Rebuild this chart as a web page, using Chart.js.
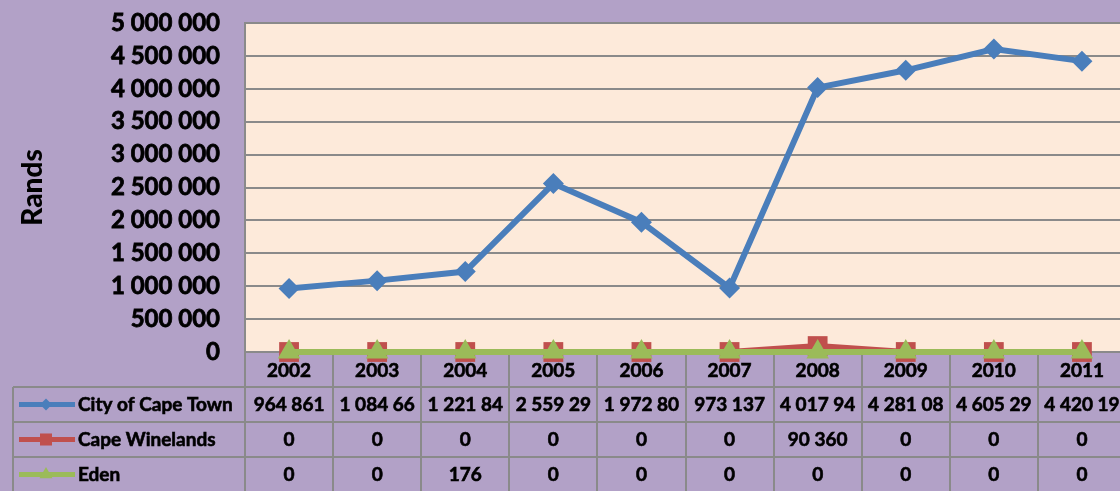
<!DOCTYPE html>
<html>
<head>
<meta charset="utf-8">
<script src="https://cdn.jsdelivr.net/npm/chart.js@4.4.1/dist/chart.umd.min.js"></script>
<style>
  html, body { margin: 0; padding: 0; background: #B2A1C7; overflow: hidden; width: 1120px; height: 491px; }
  #wrap { position: absolute; left: 0; top: 0; width: 1128px; height: 491px; }
</style>
</head>
<body>
<div id="wrap"><canvas id="c" width="1128" height="491"></canvas></div>
<script>
// ---- data ----
const years = ['2002','2003','2004','2005','2006','2007','2008','2009','2010','2011'];
const cityOfCapeTown = [964861, 1084660, 1221840, 2559290, 1972800, 973137, 4017940, 4281080, 4605290, 4420190];
const capeWinelands = [0, 0, 0, 0, 0, 0, 90360, 0, 0, 0];
const eden = [0, 0, 176, 0, 0, 0, 0, 0, 0, 0];
// table text as shown in the reference (cells clip long numbers)
const cityTableLabels = ['964 861','1 084 66','1 221 84','2 559 29','1 972 80','973 137','4 017 94','4 281 08','4 605 29','4 420 19'];
const seriesNames = ['City of Cape Town', 'Cape Winelands', 'Eden'];
const yTickMax = 5000000;
const yTickStep = 500000;
const axisTitle = 'Rands';

const BLUE = '#4A7EBB', RED = '#C0504D', GREEN = '#9BBB59';
const GRID = '#8A8A8A';
const FONT = 'Lato, Carlito, Calibri, sans-serif';

function fmt(v) { return String(v).replace(/\B(?=(\d{3})+(?!\d))/g, ' '); }

const tableRows = [
  { name: seriesNames[0], color: BLUE, style: 'rectRot', r: 6, labels: cityTableLabels },
  { name: seriesNames[1], color: RED, style: 'rect', r: 8.5, labels: capeWinelands.map(fmt) },
  { name: seriesNames[2], color: GREEN, style: 'triangle', r: 7.5, labels: eden.map(fmt) }
];

const ROW_TOP = 387, ROW_H = 35, TABLE_LEFT = 13;

const bgPlugin = {
  id: 'bg',
  beforeDraw(chart) {
    const { ctx, chartArea: a } = chart;
    ctx.save();
    ctx.fillStyle = '#FDEADA';
    ctx.fillRect(a.left, a.top, a.right - a.left, a.bottom - a.top);
    ctx.restore();
  }
};

function boldText(ctx, t, x, y) {
  ctx.fillText(t, x, y);
  ctx.strokeText(t, x, y);
}

const tablePlugin = {
  id: 'dataTable',
  beforeDatasetsDraw(chart) {
    // column separators of the year header row (under the markers)
    const { ctx, chartArea: a } = chart;
    const n = years.length;
    const w = (a.right - a.left) / n;
    ctx.save();
    ctx.strokeStyle = GRID;
    ctx.lineWidth = 2;
    for (let i = 0; i <= n; i++) {
      const x = Math.round(a.left + i * w);
      ctx.beginPath(); ctx.moveTo(x, a.bottom); ctx.lineTo(x, ROW_TOP); ctx.stroke();
    }
    ctx.restore();
  },
  afterDraw(chart) {
    const { ctx, chartArea: a } = chart;
    const xs = chart.scales.x;
    const n = years.length;
    const w = (a.right - a.left) / n;
    ctx.save();
    ctx.strokeStyle = GRID;
    ctx.lineWidth = 2;
    for (let i = 0; i <= n; i++) {
      const x = Math.round(a.left + i * w);
      ctx.beginPath(); ctx.moveTo(x, ROW_TOP); ctx.lineTo(x, 495); ctx.stroke();
    }
    ctx.beginPath(); ctx.moveTo(TABLE_LEFT, ROW_TOP); ctx.lineTo(TABLE_LEFT, 495); ctx.stroke();
    for (let r = 0; r <= 3; r++) {
      const y = ROW_TOP + r * ROW_H;
      ctx.beginPath(); ctx.moveTo(TABLE_LEFT, y); ctx.lineTo(a.right, y); ctx.stroke();
    }
    ctx.font = 'bold 19px ' + FONT;
    ctx.textBaseline = 'middle';
    tableRows.forEach((row, r) => {
      const cy = ROW_TOP + r * ROW_H + ROW_H / 2;
      ctx.strokeStyle = row.color;
      ctx.lineWidth = 5;
      ctx.beginPath(); ctx.moveTo(19, cy); ctx.lineTo(75, cy); ctx.stroke();
      ctx.fillStyle = row.color;
      Chart.helpers.drawPoint(ctx, { pointStyle: row.style, radius: row.r, borderWidth: 0 }, 46, cy);
      ctx.fillStyle = '#000';
      ctx.strokeStyle = '#000';
      ctx.lineWidth = 0.6;
      ctx.textAlign = 'left';
      boldText(ctx, row.name, 78, cy);
      ctx.textAlign = 'center';
      row.labels.forEach((t, i) => {
        boldText(ctx, t, xs.getPixelForValue(i), cy);
      });
    });
    ctx.restore();
  }
};

new Chart(document.getElementById('c'), {
  type: 'line',
  data: {
    labels: years,
    datasets: [
      { label: seriesNames[0], data: cityOfCapeTown, borderColor: BLUE, backgroundColor: BLUE,
        borderWidth: 6, pointStyle: 'rectRot', pointRadius: 10.5, pointBorderWidth: 0, order: 2, tension: 0 },
      { label: seriesNames[1], data: capeWinelands, borderColor: RED, backgroundColor: RED,
        borderWidth: 6, pointStyle: 'rect', pointRadius: 14, pointBorderWidth: 0, order: 1, tension: 0 },
      { label: seriesNames[2], data: eden, borderColor: GREEN, backgroundColor: GREEN,
        borderWidth: 6, pointStyle: 'triangle', pointRadius: 13, pointBorderWidth: 0, order: 0, tension: 0 }
    ]
  },
  options: {
    responsive: false,
    animation: false,
    clip: false,
    layout: { autoPadding: false, padding: { top: 23, right: 2, left: 0, bottom: 0 } },
    plugins: { legend: { display: false }, tooltip: { enabled: false } },
    scales: {
      x: {
        offset: true,
        grid: { display: false, drawTicks: false },
        border: { display: true, color: GRID, width: 2 },
        ticks: { color: '#000', font: { family: FONT, size: 19, weight: 'bold' }, padding: 7, maxRotation: 0, autoSkip: false,
          textStrokeColor: '#000', textStrokeWidth: 0.6 },
        afterFit(s) { s.height = 491 - 352; s.paddingLeft = 0; s.paddingRight = 0; }
      },
      y: {
        min: 0, max: yTickMax,
        grid: { color: GRID, lineWidth: 2, drawTicks: false },
        border: { display: true, color: GRID, width: 2 },
        ticks: { stepSize: yTickStep, color: '#000', padding: 25, autoSkip: false,
          textStrokeColor: '#000', textStrokeWidth: 0.8,
          font: { family: FONT, size: 24, weight: 'bold' }, callback: v => fmt(v) },
        title: { display: true, text: axisTitle, color: '#000', padding: { top: 16, bottom: 0 },
          font: { family: FONT, size: 28, weight: '900' } },
        afterFit(s) { s.width = 245; s.paddingTop = 0; s.paddingBottom = 0; }
      }
    }
  },
  plugins: [bgPlugin, tablePlugin]
});
</script>
</body>
</html>
